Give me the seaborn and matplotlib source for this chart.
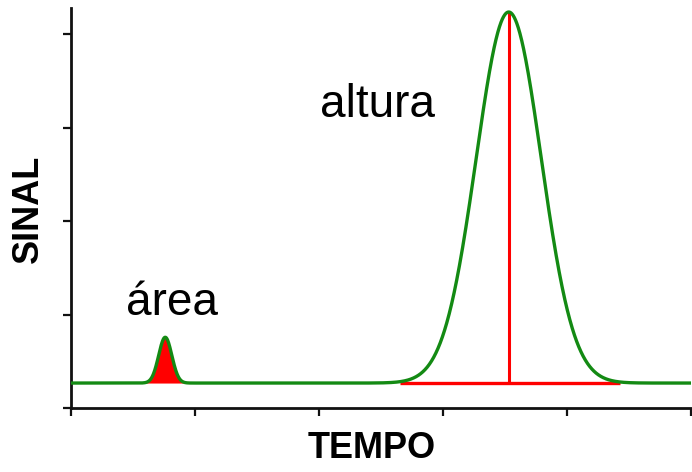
import numpy as np
import pandas as pd
import seaborn as sns
import matplotlib.pyplot as plt

# Chromatogram: baseline plus two Gaussian peaks
baseline = 0.267
peak_centers = [0.76, 3.53]
peak_heights = [0.49, 3.97]
peak_widths = [0.053, 0.262]      # standard deviations
x_ticks = [0, 1, 2, 3, 4, 5]
y_ticks = [0, 1, 2, 3, 4]
height_base = [2.65, 4.43]        # extent of the red baseline under the tall peak

t = np.linspace(0, 5, 2001)
signal = np.full_like(t, baseline)
for c, h, s in zip(peak_centers, peak_heights, peak_widths):
    signal += h * np.exp(-0.5 * ((t - c) / s) ** 2)
df = pd.DataFrame({"TEMPO": t, "SINAL": signal})

sns.set_theme(style="white")
plt.rcParams["font.family"] = ["Liberation Sans", "DejaVu Sans"]

fig = plt.figure(figsize=(6.92, 4.72), dpi=100)
ax = fig.add_axes([71 / 692, 64 / 472, 620 / 692, 400 / 472])

# shaded area under the small peak
c0, s0 = peak_centers[0], peak_widths[0]
mask = (t >= c0 - 3.2 * s0) & (t <= c0 + 3.2 * s0)
ax.fill_between(t[mask], baseline, signal[mask], color="#ff0000", lw=0, zorder=2)

# baseline and height markers for the tall peak
ax.plot(height_base, [baseline, baseline], color="#ff0000", lw=2.4, zorder=3,
        solid_capstyle="butt")
c1, h1 = peak_centers[1], peak_heights[1]
ax.plot([c1, c1], [baseline, baseline + h1], color="#ff0000", lw=2.2, zorder=3)

sns.lineplot(data=df, x="TEMPO", y="SINAL", ax=ax, color="#138a13", lw=2.4,
             zorder=4)

ax.set_xlim(0, 5)
ax.set_ylim(0, 4.28)
ax.set_xticks(x_ticks)
ax.set_yticks(y_ticks)
ax.set_xticklabels([])
ax.set_yticklabels([])
ax.tick_params(axis="both", which="both", direction="out", length=6, width=1.6,
               color="#111111", bottom=True, left=True)
for side in ["top", "right"]:
    ax.spines[side].set_visible(False)
for side in ["left", "bottom"]:
    ax.spines[side].set_linewidth(2.0)
    ax.spines[side].set_color("#111111")
ax.set_xlabel("")
ax.set_ylabel("")

fig.text(372 / 692, 1 - 448 / 472, "TEMPO", fontsize=26, fontweight="bold",
         ha="center", va="center", color="black")
fig.text(28 / 692, 1 - 209 / 472, "SINAL", fontsize=26, fontweight="bold",
         rotation=90, ha="center", va="center", color="black")
fig.text(378 / 692, 1 - 117 / 472, "altura", fontsize=33, ha="center",
         va="baseline", color="black")
fig.text(172 / 692, 1 - 315 / 472, "área", fontsize=33, ha="center",
         va="baseline", color="black")

fig.savefig("out.png", dpi=100)
